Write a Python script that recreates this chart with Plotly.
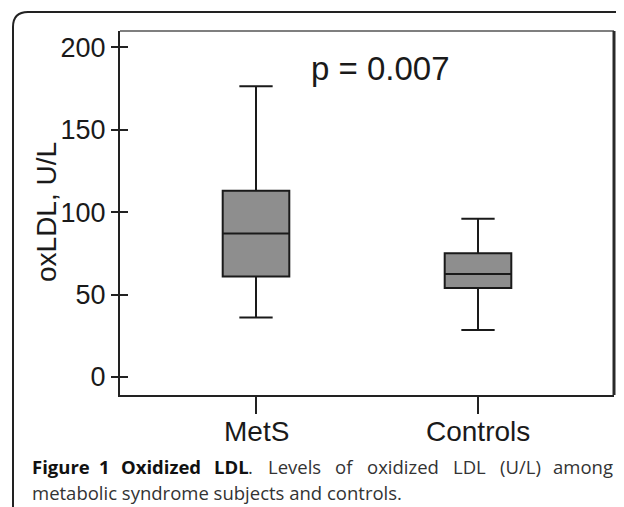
import plotly.graph_objects as go

# ---- data ----
groups = ["MetS", "Controls"]
lower_whisker = [36, 28.5]
q1 = [61, 54]
median = [87, 62.5]
q3 = [113, 75]
upper_whisker = [176.5, 96]
y_tick_vals = [0, 50, 100, 150, 200]
y_tick_text = ["0", "50", "100", "150", "200"]
y_title = "oxLDL, U/L"
p_text = "p = 0.007"
caption_line1_bold = [("Figure", 30), ("1", 97), ("Oxidized", 119), ("LDL", 212)]
caption_line1_reg = [(".", 246), ("Levels", 266), ("of", 333), ("oxidized", 365),
                     ("LDL", 451), ("(U/L)", 498)]
caption_line1_last = ("among", 615)
caption_line2 = "metabolic syndrome subjects and controls."

# page body has an 8px margin; figure is offset by it
OFF = 8
W, H = 624 - OFF, 507 - OFF
PL, PR, PT, PB = 120, 614, 31, 395          # plot area in page pixels
ML, MR, MT, MB = PL - OFF, (W + OFF) - PR, PT - OFF, (H + OFF) - PB
PW, PH = PR - PL, PB - PT


def px(x):
    return (x - PL) / PW


def py(y):
    return (PB - y) / PH


fig = go.Figure()
fig.add_trace(go.Box(
    x=groups, q1=q1, median=median, q3=q3,
    lowerfence=lower_whisker, upperfence=upper_whisker,
    fillcolor="#8e8e8e", line=dict(color="#1a1a1a", width=2),
    width=0.3, whiskerwidth=0.5, boxpoints=False, showlegend=False,
    hoverinfo="skip",
))
# empty helper trace so the inner-tick overlay axis is drawn
fig.add_trace(go.Scatter(x=[], y=[], yaxis="y2", showlegend=False, hoverinfo="skip"))

axis_font = dict(family="Liberation Sans, Arial, sans-serif", color="#1a1a1a")

fig.update_layout(
    width=W, height=H,
    margin=dict(l=ML, r=MR, t=MT, b=MB),
    paper_bgcolor="white", plot_bgcolor="white",
    xaxis=dict(
        type="category", range=[-0.6126, 1.6126],
        showline=True, linecolor="#222", linewidth=2,
        ticks="outside", ticklen=17, tickwidth=2, tickcolor="#222",
        showticklabels=False,
        showgrid=False, zeroline=False,
    ),
    yaxis=dict(
        range=[-11, 210],
        showline=True, linecolor="#222", linewidth=2,
        ticks="outside", ticklen=7, tickwidth=2, tickcolor="#222",
        tickvals=y_tick_vals, ticktext=y_tick_text,
        tickfont=dict(size=27, **axis_font),
        showgrid=False, zeroline=False,
    ),
    yaxis2=dict(
        range=[-11, 210], overlaying="y", side="left", anchor="x",
        ticks="inside", ticklen=8, tickwidth=2, tickcolor="#222",
        tickvals=y_tick_vals, showticklabels=False,
        showline=False, showgrid=False, zeroline=False,
    ),
    font=axis_font,
)

shapes = []
# plot frame: top (thin gray) and right (thick dark)
shapes.append(dict(type="line", xref="paper", yref="paper", x0=0, x1=1, y0=1, y1=1,
                   line=dict(color="#555", width=1.5)))
shapes.append(dict(type="line", xref="paper", yref="paper", x0=1, x1=1, y0=0, y1=1,
                   line=dict(color="#2a2a2a", width=3)))
# outer rounded figure frame (open on right and bottom)
x0, yb, yt, xr = px(13), py(520), py(12), px(640)
rx, ry = 15 / PW, 15 / PH
path = (f"M {x0},{yb} L {x0},{yt - ry} Q {x0},{yt} {x0 + rx},{yt} L {xr},{yt}")
shapes.append(dict(type="path", xref="paper", yref="paper", path=path,
                   line=dict(color="#222", width=2)))
fig.update_layout(shapes=shapes)

ann = []
# category labels
for g in groups:
    ann.append(dict(text=g, x=g, y=py(431), xref="x", yref="paper",
                    xanchor="center", yanchor="middle", showarrow=False,
                    font=dict(size=28, **axis_font)))
ann.append(dict(text=y_title, textangle=-90, x=px(46), y=py(212), xref="paper", yref="paper",
                xanchor="center", yanchor="middle", showarrow=False,
                font=dict(size=28, **axis_font)))
ann.append(dict(text=p_text, x=px(380), y=py(69), xref="paper", yref="paper",
                xanchor="center", yanchor="middle", showarrow=False,
                font=dict(size=33, **axis_font)))
cap_font = "Open Sans, sans-serif"
CAP = 18.5
for word, xpos in caption_line1_bold:
    ann.append(dict(text=f"<b>{word}</b>", x=px(xpos), y=py(466), xref="paper", yref="paper",
                    xanchor="left", yanchor="middle", showarrow=False,
                    font=dict(family=cap_font, size=CAP, color="#111")))
for word, xpos in caption_line1_reg:
    ann.append(dict(text=word, x=px(xpos), y=py(466), xref="paper", yref="paper",
                    xanchor="left", yanchor="middle", showarrow=False,
                    font=dict(family=cap_font, size=CAP, color="#333")))
ann.append(dict(text=caption_line1_last[0], x=px(caption_line1_last[1]), y=py(466),
                xref="paper", yref="paper", xanchor="right", yanchor="middle",
                showarrow=False, font=dict(family=cap_font, size=CAP, color="#333")))
ann.append(dict(text=caption_line2, x=px(30), y=py(492), xref="paper", yref="paper",
                xanchor="left", yanchor="middle", showarrow=False,
                font=dict(family=cap_font, size=CAP, color="#333")))
fig.update_layout(annotations=ann)

fig.write_html("out.html")
